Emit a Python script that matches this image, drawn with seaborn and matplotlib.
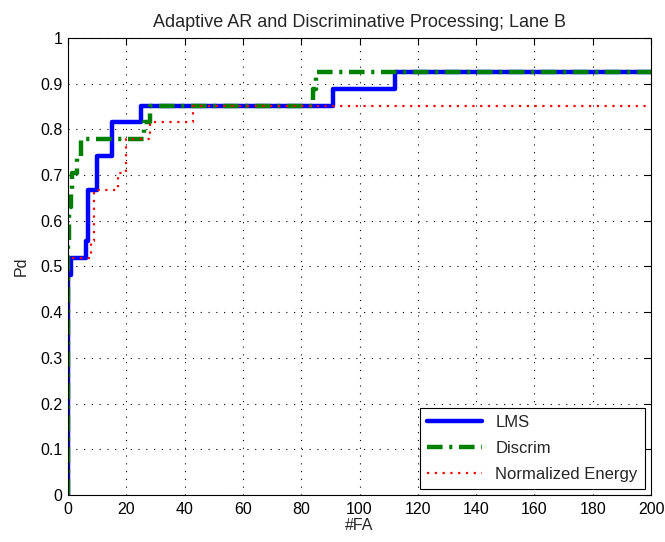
import matplotlib
matplotlib.use("Agg")
import matplotlib.pyplot as plt
import pandas as pd
import seaborn as sns

# ROC operating points (#FA, Pd) for each detector, step-wise
lms_fa = [0, 0, 1, 6, 7, 10, 15, 25, 91, 112, 200]
lms_pd = [0, 0.481, 0.519, 0.556, 0.667, 0.741, 0.815, 0.852, 0.889, 0.926, 0.926]

discrim_fa = [0, 0, 0.5, 1, 1.5, 3, 4.5, 26, 28, 84, 85, 200]
discrim_pd = [0, 0.556, 0.630, 0.667, 0.704, 0.741, 0.778, 0.815, 0.852, 0.889, 0.926, 0.926]

energy_fa = [0, 0, 8, 9, 17, 20, 28, 43, 200]
energy_pd = [0, 0.519, 0.556, 0.667, 0.704, 0.778, 0.815, 0.852, 0.852]

labels = ["LMS", "Discrim", "Normalized Energy"]
x_ticks = list(range(0, 201, 20))
y_ticks = [0, 0.1, 0.2, 0.3, 0.4, 0.5, 0.6, 0.7, 0.8, 0.9, 1]
y_tick_labels = ["0", "0.1", "0.2", "0.3", "0.4", "0.5", "0.6", "0.7", "0.8", "0.9", "1"]

sns.set_style("white")
plt.rcParams["font.family"] = ["Liberation Sans", "DejaVu Sans"]

fig = plt.figure(figsize=(6.65, 5.42), dpi=100)
ax = fig.add_axes([0.1023, 0.0867, 0.8767, 0.8433])

series = [
    (lms_fa, lms_pd, "#0000ff", "-", 3.2),
    (discrim_fa, discrim_pd, "#008000", (0, (3.5, 1.5, 0.7, 1.5)), 3.2),
    (energy_fa, energy_pd, "#ff0000", (0, (1, 2.5)), 1.6),
]
for (fa, pdv, color, ls, lw), name in zip(series, labels):
    df = pd.DataFrame({"#FA": fa, "Pd": pdv})
    line_ax = sns.lineplot(data=df, x="#FA", y="Pd", ax=ax, color=color,
                           linewidth=lw, sort=False, estimator=None,
                           drawstyle="steps-post", label=name)
    line_ax.lines[-1].set_linestyle(ls)
    line_ax.lines[-1].set_dash_capstyle("butt")

ax.set_xlim(0, 200)
ax.set_ylim(0, 1)
ax.set_xticks(x_ticks)
ax.set_yticks(y_ticks)
ax.set_yticklabels(y_tick_labels)
ax.tick_params(direction="in", length=5, width=0.8, top=True, right=True,
               labelsize=11.5, colors="black")
ax.tick_params(axis="x", pad=5)
ax.tick_params(axis="y", pad=4)
ax.grid(True, linestyle=(0, (1, 6)), color="black", linewidth=0.8)
for sp in ax.spines.values():
    sp.set_visible(True)
    sp.set_color("black")
    sp.set_linewidth(0.8)

ax.set_xlabel("#FA", fontsize=11.5, labelpad=1)
ax.set_ylabel("Pd", fontsize=11.5, labelpad=8)
ax.set_title("Adaptive AR and Discriminative Processing; Lane B", fontsize=13, pad=8)

leg = ax.legend(loc="lower right", fontsize=12, frameon=True, fancybox=False,
                edgecolor="black", framealpha=1, handlelength=3.3,
                borderaxespad=0.35, labelspacing=0.65, borderpad=0.45)
leg.get_frame().set_linewidth(0.8)

fig.savefig("out.png", dpi=100)
